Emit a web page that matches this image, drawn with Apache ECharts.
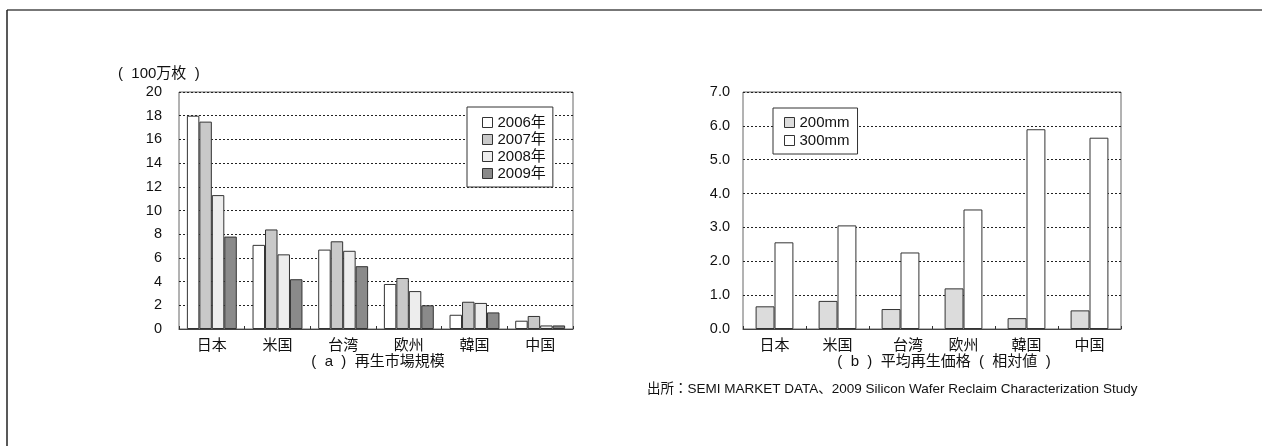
<!DOCTYPE html>
<html>
<head>
<meta charset="utf-8">
<script src="https://cdn.jsdelivr.net/npm/echarts@6/dist/echarts.min.js"></script>
<style>
  html, body { margin: 0; padding: 0; background: #fff; }
  #chart { width: 1262px; height: 446px; }
</style>
</head>
<body>
<div id="chart"></div>
<script>
// Regions shared by both panels
const regions = ['日本', '米国', '台湾', '欧州', '韓国', '中国'];

// (a) Reclaim market size, million wafers
const marketYears = ['2006年', '2007年', '2008年', '2009年'];
const market2006 = [18.0, 7.1, 6.7, 3.8, 1.2, 0.7];
const market2007 = [17.5, 8.4, 7.4, 4.3, 2.3, 1.1];
const market2008 = [11.3, 6.3, 6.6, 3.2, 2.2, 0.3];
const market2009 = [7.8, 4.2, 5.3, 2.0, 1.4, 0.3];
const marketTicks = [0, 2, 4, 6, 8, 10, 12, 14, 16, 18, 20];

// (b) Average reclaim price, relative value
const waferSizes = ['200mm', '300mm'];
const price200 = [0.67, 0.83, 0.59, 1.20, 0.32, 0.55];
const price300 = [2.56, 3.06, 2.26, 3.53, 5.90, 5.65];
const priceTicks = [0, 1, 2, 3, 4, 5, 6, 7];

const FONT = '"Liberation Sans", Arial, "Noto Sans CJK JP", sans-serif';
const TEXT = '#111';

const chart = echarts.init(document.getElementById('chart'));

const marketSeries = [market2006, market2007, market2008, market2009];
const marketColors = ['#ffffff', '#c9c9c9', '#ededed', '#8a8a8a'];
const priceSeries = [price200, price300];
const priceColors = ['#dcdcdc', '#ffffff'];

const barBorder = { borderColor: '#333', borderWidth: 1 };

function valueAxis(gridIndex, ticks, decimals, margin) {
  return {
    type: 'value', gridIndex: gridIndex,
    min: ticks[0], max: ticks[ticks.length - 1],
    interval: ticks[1] - ticks[0],
    axisLine: { show: false },
    axisTick: { show: false },
    axisLabel: {
      color: TEXT, fontFamily: FONT, fontSize: 14.5, margin: margin,
      formatter: v => v.toFixed(decimals)
    },
    splitLine: { lineStyle: { color: '#222', type: [2, 2], width: 1 } }
  };
}

function categoryAxis(gridIndex, shiftTaiwan) {
  return {
    type: 'category', gridIndex: gridIndex, data: regions,
    axisLine: { lineStyle: { color: '#444', width: 1 } },
    axisTick: { show: true, inside: true, length: 3, lineStyle: { color: '#333' } },
    axisLabel: {
      interval: 0, hideOverlap: false,
      color: TEXT, fontFamily: FONT, fontSize: 15, margin: 9,
      formatter: v => (shiftTaiwan && v === '台湾') ? '{s|' + v + '}' : v,
      rich: { s: { fontFamily: FONT, fontSize: 15, color: TEXT, padding: [0, 0, 0, 15] } }
    }
  };
}

const series = [];
marketYears.forEach((name, i) => {
  series.push({
    name: name, type: 'bar', xAxisIndex: 0, yAxisIndex: 0,
    data: marketSeries[i], barGap: '0%', barCategoryGap: '24%',
    itemStyle: Object.assign({ color: marketColors[i] }, barBorder)
  });
});
waferSizes.forEach((name, i) => {
  series.push({
    name: name, type: 'bar', xAxisIndex: 1, yAxisIndex: 1,
    data: priceSeries[i], barGap: '0%', barCategoryGap: '40%',
    itemStyle: Object.assign({ color: priceColors[i] }, barBorder)
  });
});

const legendBase = {
  orient: 'vertical', icon: 'rect', itemWidth: 10, itemHeight: 10,
  borderColor: '#333', borderWidth: 1, backgroundColor: '#fff',
  textStyle: { color: TEXT, fontFamily: FONT, fontSize: 15 },
  itemStyle: { borderColor: '#333', borderWidth: 1 },
  selectedMode: false
};

chart.setOption({
  animation: false,
  backgroundColor: '#fff',
  grid: [
    { left: 179, top: 92, width: 394, height: 237, show: true, borderColor: '#666', borderWidth: 1 },
    { left: 743, top: 92, width: 378, height: 237, show: true, borderColor: '#666', borderWidth: 1 }
  ],
  xAxis: [categoryAxis(0, false), categoryAxis(1, true)],
  yAxis: [valueAxis(0, marketTicks, 0, 17), valueAxis(1, priceTicks, 1, 13)],
  legend: [
    Object.assign({}, legendBase, { data: marketYears, left: 467, top: 107, itemGap: 2, padding: [8, 7, 6, 15] }),
    Object.assign({}, legendBase, { data: waferSizes, left: 773, top: 108, itemGap: 3, padding: [7, 8, 6, 11] })
  ],
  series: series,
  graphic: [
    // page frame
    { type: 'line', shape: { x1: 7, y1: 10, x2: 1262, y2: 10 }, style: { stroke: '#777', lineWidth: 2 } },
    { type: 'line', shape: { x1: 7, y1: 10, x2: 7, y2: 446 }, style: { stroke: '#222', lineWidth: 1.5 } },
    // unit label and panel captions
    { type: 'text', x: 118, y: 74, style: { text: '(  100万枚  )', fill: TEXT, font: '15px ' + FONT, textVerticalAlign: 'middle' } },
    { type: 'text', x: 378, y: 362, style: { text: '(  a  )  再生市場規模', fill: TEXT, font: '15px ' + FONT, textAlign: 'center', textVerticalAlign: 'middle' } },
    { type: 'text', x: 944, y: 362, style: { text: '(  b  )  平均再生価格  (  相対値  )', fill: TEXT, font: '15px ' + FONT, textAlign: 'center', textVerticalAlign: 'middle' } },
    { type: 'text', left: 647, top: 383, style: { text: '出所：SEMI MARKET DATA、2009 Silicon Wafer Reclaim Characterization Study', fill: TEXT, font: '13.5px ' + FONT } }
  ]
});
</script>
</body>
</html>
